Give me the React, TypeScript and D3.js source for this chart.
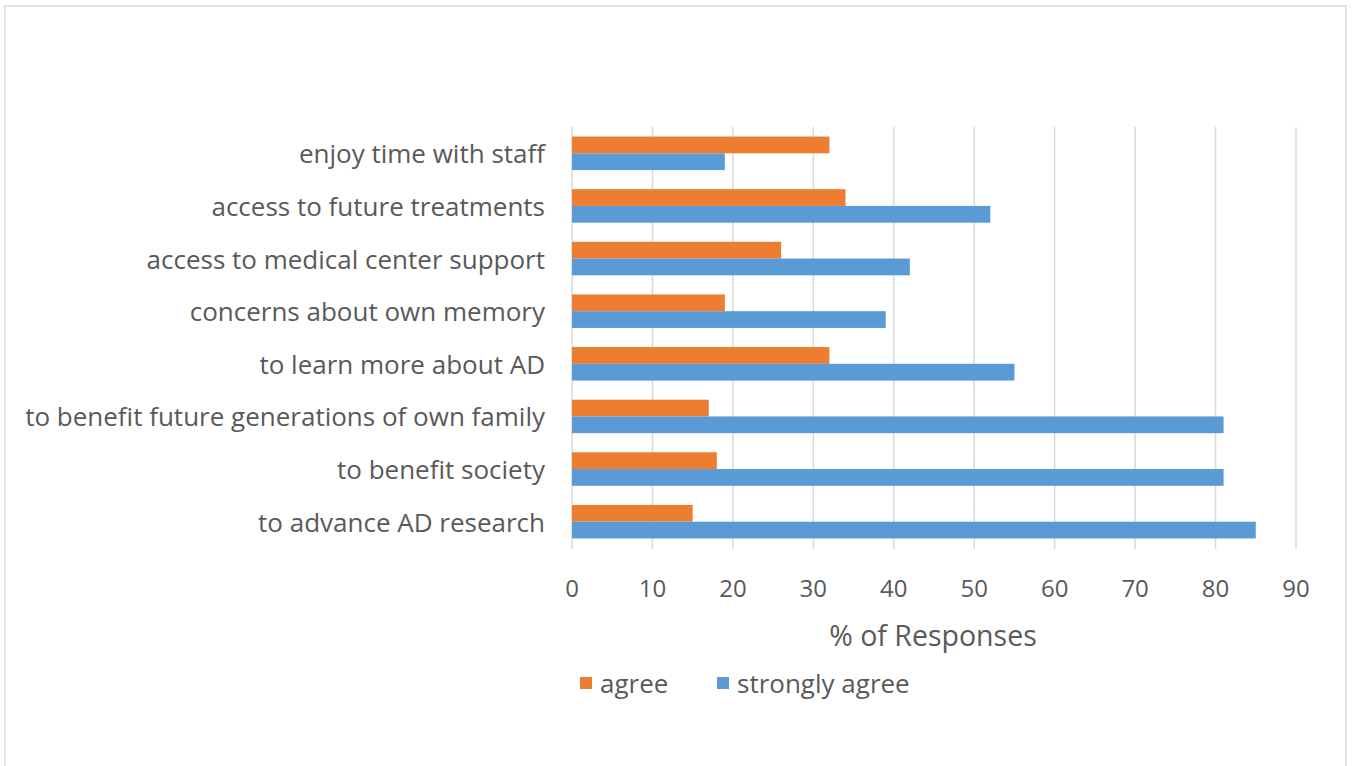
import React from "react";
import * as d3 from "d3";

const categories = [
  "enjoy time with staff",
  "access to future treatments",
  "access to medical center support",
  "concerns about own memory",
  "to learn more about AD",
  "to benefit future generations of own family",
  "to benefit society",
  "to advance AD research",
];
const agree = [32, 34, 26, 19, 32, 17, 18, 15];
const stronglyAgree = [19, 52, 42, 39, 55, 81, 81, 85];
const xTicks = [0, 10, 20, 30, 40, 50, 60, 70, 80, 90];
const seriesNames = ["agree", "strongly agree"];
const seriesColors = ["#ED7D31", "#5B9BD5"];

const W = 1355;
const H = 766;
const FONT = "'Open Sans', sans-serif";
const TXT = "#595959";

export default function App() {
  const x = d3.scaleLinear().domain([0, 90]).range([572, 1296]);
  const y = d3.scaleBand().domain(categories).range([127, 548]);
  const inner = d3
    .scaleBand()
    .domain(seriesNames)
    .range([0, y.bandwidth()])
    .paddingInner(0)
    .paddingOuter(0.57);
  const series = [agree, stronglyAgree];

  return (
    <svg
      width={W}
      height={H}
      style={{ position: "absolute", left: 0, top: 0, background: "#fff" }}
    >
      <rect x={5} y={6} width={1341} height={800} fill="#fff" stroke="#d9d9d9" strokeWidth={1.5} />
      {xTicks.map((t) => (
        <line key={t} x1={x(t)} x2={x(t)} y1={127} y2={549} stroke="#d9d9d9" strokeWidth={1.5} />
      ))}
      {categories.map((c, i) => (
        <g key={c}>
          {series.map((s, j) => (
            <rect
              key={j}
              x={x(0)}
              y={(y(c) as number) + (inner(seriesNames[j]) as number)}
              width={x(s[i]) - x(0)}
              height={inner.bandwidth()}
              fill={seriesColors[j]}
            />
          ))}
          <text
            x={545}
            y={(y(c) as number) + y.bandwidth() / 2}
            textAnchor="end"
            dominantBaseline="central"
            fontFamily={FONT}
            fontSize={26}
            fill={TXT}
          >
            {c}
          </text>
        </g>
      ))}
      {xTicks.map((t) => (
        <text
          key={t}
          x={x(t)}
          y={587}
          textAnchor="middle"
          dominantBaseline="central"
          fontFamily={FONT}
          fontSize={24}
          fill={TXT}
        >
          {t}
        </text>
      ))}
      <text
        x={933}
        y={635}
        textAnchor="middle"
        dominantBaseline="central"
        fontFamily={FONT}
        fontSize={28.5}
        fill={TXT}
      >
        % of Responses
      </text>
      {seriesNames.map((n, j) => {
        const lx = j === 0 ? 580 : 717;
        return (
          <g key={n}>
            <rect x={lx} y={677} width={12} height={12} fill={seriesColors[j]} />
            <text
              x={lx + 20}
              y={683}
              dominantBaseline="central"
              fontFamily={FONT}
              fontSize={26}
              fill={TXT}
            >
              {n}
            </text>
          </g>
        );
      })}
    </svg>
  );
}
